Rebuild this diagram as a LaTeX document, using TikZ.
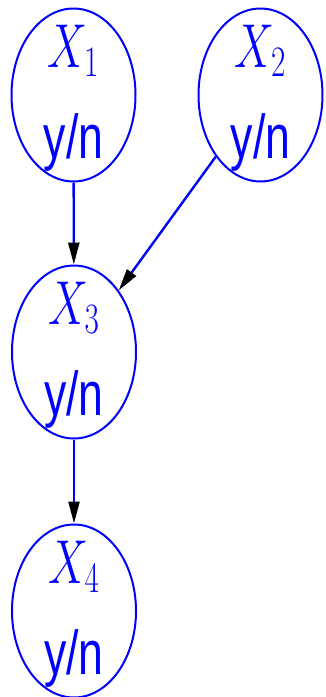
\RequirePackage{fix-cm}
\documentclass[tikz,border=0pt]{standalone}
\usepackage{fontspec}
\usepackage{graphicx}
\newfontfamily\yesnofont{Liberation Sans}
\usetikzlibrary{arrows.meta,shapes.geometric}
\begin{document}
\begin{tikzpicture}[x=0.5pt,y=-0.5pt,>={Triangle[length=11pt,width=5.5pt,black]},
  var/.style={draw=blue,line width=1pt,ellipse,minimum width=62pt,minimum height=86.5pt,inner sep=0pt},
  varname/.style={blue,anchor=base,inner sep=0pt,font=\fontsize{31}{31}\selectfont},
  varval/.style={blue,anchor=base,inner sep=0pt,font=\fontsize{31}{31}\selectfont\yesnofont}]
\useasboundingbox (0,0) rectangle (326,697);
\foreach \i/\x/\y in {1/73.5/95,2/260.5/95,3/74/352,4/74/611}{
    \node[var] (X\i) at (\x,\y) {};
    \node[varname] (X\i name) at (\x,{\y-28}) {\scalebox{0.72}[1]{$X_\i$}};
    \node[varval] (X\i val) at (\x,{\y+63}) {\scalebox{0.72}[1]{y/n}};
}
\draw[->,blue,line width=1.2pt] (X1)--(X3);
\draw[->,blue,line width=1.2pt] (X2)--(X3);
\draw[->,blue,line width=1.2pt] (X3)--(X4);
\end{tikzpicture}
\end{document}
